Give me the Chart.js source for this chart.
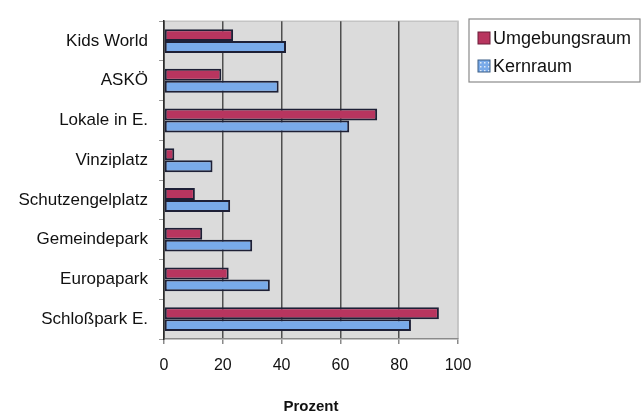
<!DOCTYPE html>
<html>
<head>
<meta charset="utf-8">
<script src="https://cdn.jsdelivr.net/npm/chart.js@4/dist/chart.umd.min.js"></script>
<style>
  html, body { margin: 0; padding: 0; background: #ffffff; }
  canvas { display: block; }
</style>
</head>
<body>
<canvas id="chart" width="643" height="414"></canvas>
<script>
// Places, from top to bottom
const categories = ['Kids World', 'ASKÖ', 'Lokale in E.', 'Vinziplatz', 'Schutzengelplatz', 'Gemeindepark', 'Europapark', 'Schloßpark E.'];
// Share of respondents (%) per area
const umgebungsraum = [23.5, 19.5, 72.5, 3.5, 10.5, 13, 22, 93.5];
const kernraum = [41.5, 39, 63, 16.5, 22.5, 30, 36, 84];
// Value axis ticks
const xTicks = [0, 20, 40, 60, 80, 100];
const seriesNames = ['Umgebungsraum', 'Kernraum'];

const FONT = '"Liberation Sans", Arial, Helvetica, sans-serif';
const RED = '#b8355f';
const BLUE = '#79aae9';
const EDGE = '#1e2036';
const INK = '#111111';

// Grey plot background with a light frame on top and right
const plotBackground = {
  id: 'plotBackground',
  beforeDraw(chart) {
    const { ctx, chartArea: a } = chart;
    ctx.save();
    ctx.fillStyle = '#dbdbdb';
    ctx.fillRect(a.left, a.top, a.right - a.left, a.bottom - a.top);
    ctx.strokeStyle = '#c4c4c4';
    ctx.lineWidth = 1.5;
    ctx.beginPath();
    ctx.moveTo(a.left, a.top);
    ctx.lineTo(a.right, a.top);
    ctx.lineTo(a.right, a.bottom);
    ctx.stroke();
    ctx.restore();
  }
};

// Boxed legend to the right of the plot
const boxedLegend = {
  id: 'boxedLegend',
  afterDraw(chart) {
    const { ctx } = chart;
    const box = { x: 469, y: 19, w: 171, h: 63 };
    ctx.save();
    ctx.fillStyle = '#ffffff';
    ctx.fillRect(box.x, box.y, box.w, box.h);
    ctx.strokeStyle = '#8a8a8a';
    ctx.lineWidth = 1.2;
    ctx.strokeRect(box.x, box.y, box.w, box.h);
    ctx.font = '18px ' + FONT;
    ctx.textBaseline = 'middle';
    chart.data.datasets.forEach((ds, i) => {
      const cy = 38 + i * 28;
      const mx = 478, ms = 12;
      ctx.fillStyle = ds.backgroundColor;
      ctx.fillRect(mx, cy - ms / 2, ms, ms);
      if (i === 1) {
        // dotted fill of the second series marker
        ctx.fillStyle = '#dfeaf6';
        for (let dx = 2; dx < ms; dx += 4) {
          for (let dy = 2; dy < ms; dy += 4) {
            ctx.fillRect(mx + dx, cy - ms / 2 + dy, 1.5, 1.5);
          }
        }
        ctx.strokeStyle = '#3d5f86';
      } else {
        ctx.strokeStyle = '#6a1d38';
      }
      ctx.lineWidth = 1;
      ctx.strokeRect(mx, cy - ms / 2, ms, ms);
      ctx.fillStyle = INK;
      ctx.fillText(ds.label, 493, cy + 1);
    });
    ctx.restore();
  }
};

new Chart(document.getElementById('chart'), {
  type: 'bar',
  data: {
    labels: categories,
    datasets: [
      {
        label: seriesNames[0],
        data: umgebungsraum,
        backgroundColor: RED,
        borderColor: EDGE,
        borderWidth: 2,
        borderSkipped: false,
        categoryPercentage: 0.6,
        barPercentage: 1.0
      },
      {
        label: seriesNames[1],
        data: kernraum,
        backgroundColor: BLUE,
        borderColor: EDGE,
        borderWidth: 2,
        borderSkipped: false,
        categoryPercentage: 0.6,
        barPercentage: 1.0
      }
    ]
  },
  options: {
    indexAxis: 'y',
    responsive: false,
    animation: false,
    devicePixelRatio: 1,
    layout: { padding: { top: 15, right: 185, left: 0, bottom: 0 } },
    plugins: {
      legend: { display: false },
      tooltip: { enabled: false }
    },
    scales: {
      x: {
        type: 'linear',
        min: xTicks[0],
        max: xTicks[xTicks.length - 1],
        afterBuildTicks(scale) {
          scale.ticks = xTicks.map(v => ({ value: v }));
        },
        afterFit(scale) { scale.height = 75; },
        grid: {
          color: c => (c.tick && c.tick.value === 100) ? '#c4c4c4' : (c.tick && c.tick.value === 0 ? '#2a2a2a' : '#4f4f4f'),
          lineWidth: 1.5,
          tickLength: 5,
          tickColor: '#8a8a8a',
          drawTicks: true
        },
        border: { display: true, color: '#8a8a8a', width: 1.5 },
        ticks: {
          font: { family: FONT, size: 16 },
          color: INK,
          padding: 12
        },
        title: {
          display: true,
          text: 'Prozent',
          font: { family: FONT, size: 15, weight: 'bold', lineHeight: 1.0 },
          color: INK,
          padding: { top: 0, bottom: 0 }
        }
      },
      y: {
        afterFit(scale) { scale.width = 164; },
        grid: {
          drawOnChartArea: false,
          tickLength: 5,
          tickColor: '#9a9a9a'
        },
        border: { display: true, color: '#2a2a2a', width: 1.5 },
        ticks: {
          font: { family: FONT, size: 17 },
          color: INK,
          padding: 11
        }
      }
    }
  },
  plugins: [plotBackground, boxedLegend]
});
</script>
</body>
</html>
